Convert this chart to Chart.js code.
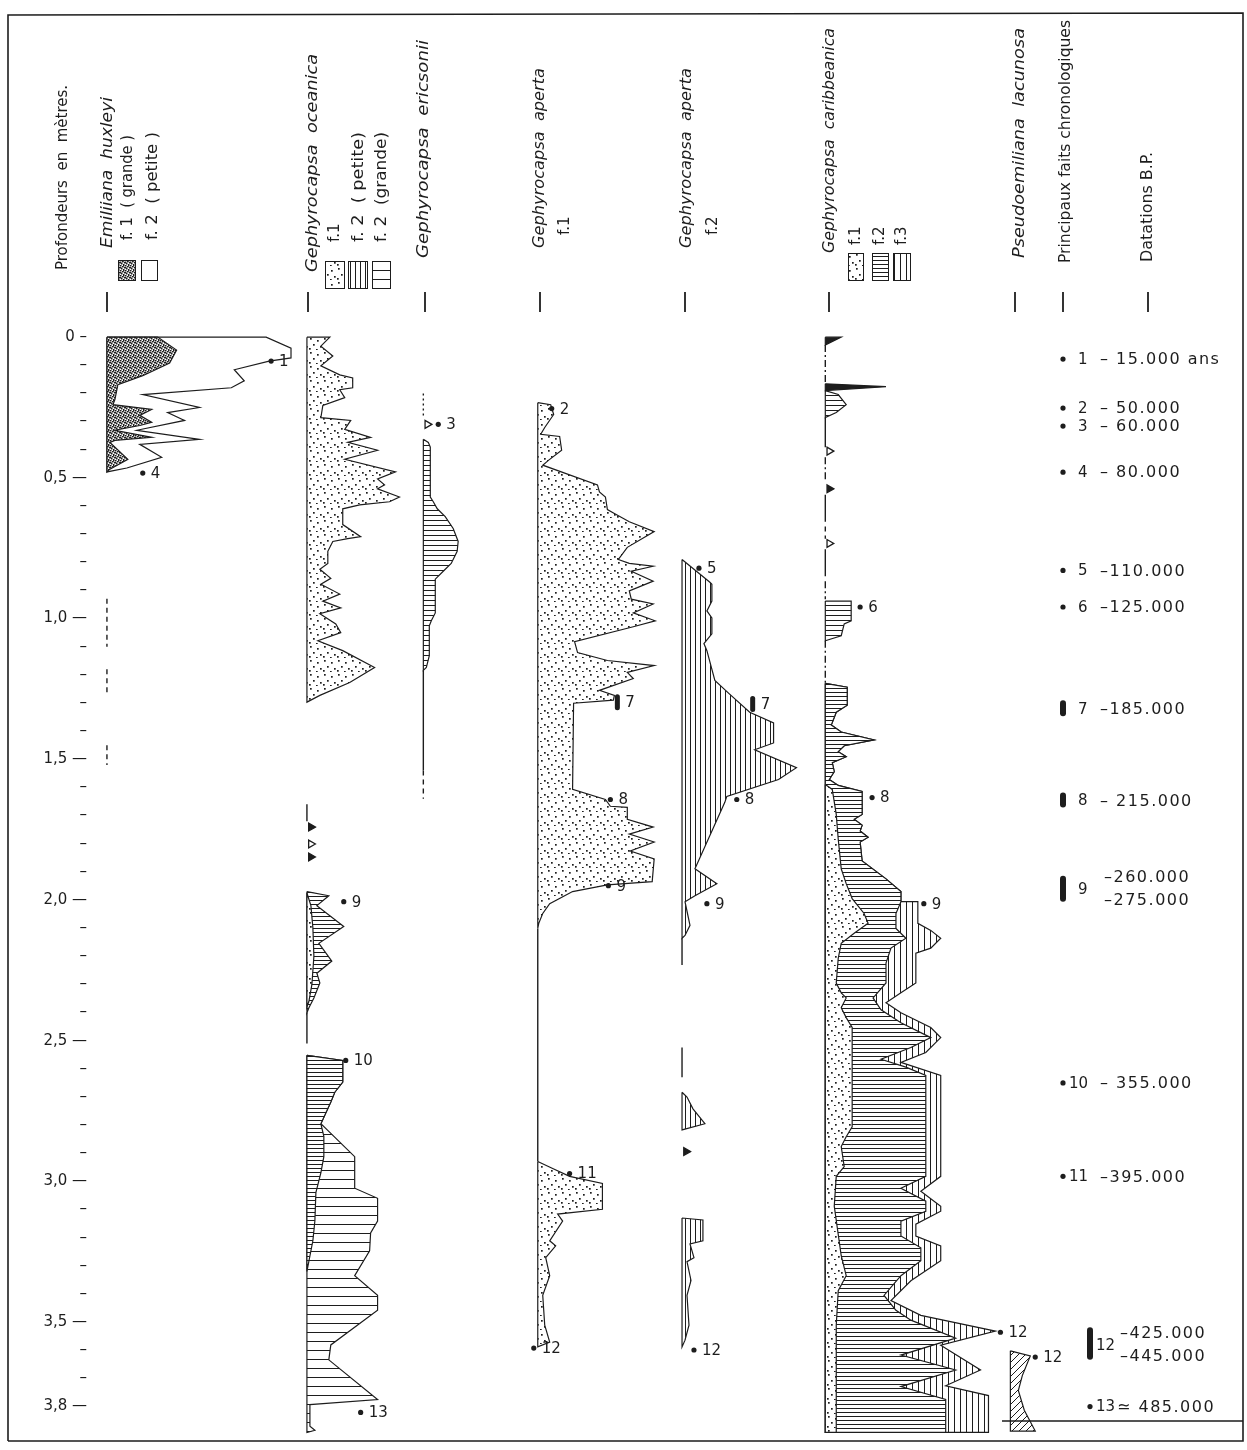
<!DOCTYPE html>
<html>
<head>
<meta charset="utf-8">
<script src="https://cdn.jsdelivr.net/npm/chart.js@4.4.1/dist/chart.umd.min.js"></script>
<style>
html, body { margin: 0; padding: 0; background: #fff; }
canvas { display: block; }
</style>
</head>
<body>
<canvas id="chart" width="1247" height="1450"></canvas>
<script>
// depth axis (metres)
const depthTicks = [0,0.1,0.2,0.3,0.4,0.5,0.6,0.7,0.8,0.9,1.0,1.1,1.2,1.3,1.4,1.5,1.6,1.7,1.8,1.9,2.0,
  2.1,2.2,2.3,2.4,2.5,2.6,2.7,2.8,2.9,3.0,3.1,3.2,3.3,3.4,3.5,3.6,3.7,3.8];
const majorDepths = [0, 0.5, 1.0, 1.5, 2.0, 2.5, 3.0, 3.5, 3.8];
const majorLabels = ['0', '0,5', '1,0', '1,5', '2,0', '2,5', '3,0', '3,5', '3,8'];

// series: [depth, relative abundance]
// Emiliania huxleyi
const huxF2 = [[0,0],[0,160],[0.039,185],[0.074,185],[0.085,163],[0.116,128],[0.155,138],[0.18,125],[0.204,36],
  [0.25,93],[0.268,61],[0.296,78],[0.331,30],[0.363,93],[0.381,33],[0.427,55],[0.465,20],[0.479,0]];
const huxF1 = [[0,0],[0,51],[0.046,70],[0.092,63],[0.137,36],[0.169,11],[0.222,8],[0.24,6],[0.257,45],[0.278,33],
  [0.303,45],[0.314,33],[0.331,8],[0.356,45],[0.367,8],[0.374,3],[0.434,21],[0.469,3],[0.479,0]];

// Gephyrocapsa oceanica
const oceF1 = [[0,0],[0,23],[0.032,14],[0.067,26],[0.102,14],[0.134,33],[0.145,46],[0.18,46],[0.187,33],[0.215,38],
  [0.243,16],[0.286,14],[0.296,44],[0.328,38],[0.356,64],[0.374,41],[0.402,71],[0.434,38],[0.479,89],[0.504,71],
  [0.525,78],[0.539,71],[0.568,93],[0.585,83],[0.596,53],[0.61,36],[0.666,36],[0.709,54],[0.716,41],[0.726,26],
  [0.761,21],[0.804,21],[0.825,13],[0.857,24],[0.878,14],[0.913,33],[0.938,16],[0.962,34],[0.983,13],[1.019,29],
  [1.05,34],[1.079,11],[1.114,36],[1.174,68],[1.227,43],[1.273,13],[1.297,0]];
const oceA2 = [[1.97,0],[1.985,22],[2.02,10],[2.094,37],[2.154,12],[2.217,25],[2.26,10],[2.295,13],[2.348,7],[2.383,2],[2.401,0]];
const oceA1 = [[1.975,0],[2.02,4],[2.1,6],[2.2,7],[2.3,5],[2.36,2],[2.38,0]];
const oceB2g = [[2.552,0],[2.57,36],[2.647,36],[2.683,28],[2.718,24],[2.795,14],[2.912,48],[3.024,48],[3.06,71],
  [3.141,71],[3.183,64],[3.247,63],[3.335,48],[3.405,71],[3.458,71],[3.581,24],[3.634,22],[3.775,71],[3.793,3],
  [3.87,3],[3.884,8],[3.892,0]];
const oceB2p = [[2.552,0],[2.57,36],[2.647,36],[2.683,28],[2.718,24],[2.795,14],[2.84,17],[2.912,17],[2.97,14],
  [3.04,9],[3.14,8],[3.21,6],[3.32,0]];

// Gephyrocapsa ericsonii
const eriF = [[0.363,0],[0.374,5],[0.391,7],[0.568,7],[0.585,10],[0.61,14],[0.638,22],[0.68,30],[0.726,35],[0.761,34],
  [0.804,28],[0.832,20],[0.86,12],[0.98,12],[1.008,8],[1.026,6],[1.132,6],[1.174,3],[1.184,0]];

// Gephyrocapsa aperta f.1
const ap1A = [[0.233,0],[0.24,13],[0.275,16],[0.321,7],[0.345,3],[0.353,22],[0.402,24],[0.437,11],[0.455,5],[0.525,60],
  [0.55,62],[0.568,68],[0.613,70],[0.627,77],[0.656,92],[0.691,117],[0.747,90],[0.79,81],[0.804,92],[0.814,116],
  [0.832,94],[0.867,116],[0.902,92],[0.931,94],[0.948,116],[0.98,96],[1.008,118],[1.029,96],[1.082,37],[1.121,40],
  [1.149,70],[1.167,117],[1.191,90],[1.213,96],[1.255,62],[1.273,77],[1.29,76],[1.301,36],[1.607,35],[1.643,68],
  [1.667,73],[1.671,90],[1.713,90],[1.741,116],[1.766,92],[1.794,117],[1.826,93],[1.854,117],[1.935,115],[1.946,70],
  [1.97,35],[2.013,12],[2.048,5],[2.083,1],[2.101,0]];
const ap1B = [[2.929,0],[2.954,15],[2.982,32],[3.007,65],[3.099,65],[3.116,20],[3.141,25],[3.211,12],[3.229,18],
  [3.271,8],[3.335,12],[3.405,5],[3.511,7],[3.571,12],[3.588,0]];

// Gephyrocapsa aperta f.2
const ap2A = [[0.79,0],[0.871,28],[0.878,30],[0.938,30],[0.973,25],[0.998,30],[1.054,30],[1.089,22],[1.114,25],[1.22,33],
  [1.266,47],[1.333,68],[1.371,92],[1.442,92],[1.466,73],[1.53,115],[1.572,97],[1.632,45],[1.653,43],[1.889,13],
  [1.942,35],[1.985,13],[2.006,3],[2.09,8],[2.126,3],[2.136,0]];
const ap2B = [[2.683,0],[2.7,5],[2.742,11],[2.795,23],[2.817,0]];
const ap2C = [[3.13,0],[3.137,21],[3.211,21],[3.222,8],[3.271,12],[3.285,5],[3.352,9],[3.405,5],[3.511,7],[3.564,3],[3.588,0]];

// Gephyrocapsa caribbeanica
const carFlag = [[0,0],[0,16],[0.028,0]];
const carSpike = [[0.166,0],[0.176,61],[0.19,0]];
const carTri = [[0.19,0],[0.204,13],[0.24,21],[0.268,11],[0.286,0]];
const carSix = [[0.938,0],[0.938,26],[1.008,26],[1.019,19],[1.061,16],[1.079,0]];
const carF3 = [[1.23,0],[1.244,22],[1.308,22],[1.333,11],[1.378,6],[1.403,16],[1.431,49],[1.452,19],[1.473,13],
  [1.491,21],[1.512,7],[1.544,9],[1.572,4],[1.593,13],[1.614,37],[1.696,37],[1.713,29],[1.734,37],[1.755,35],
  [1.777,43],[1.794,35],[1.861,37],[1.925,61],[1.97,76],[2.006,76],[2.006,93],[2.083,93],[2.108,106],[2.136,116],
  [2.171,106],[2.189,91],[2.295,91],[2.33,76],[2.365,61],[2.401,76],[2.453,106],[2.489,116],[2.542,101],[2.577,76],
  [2.623,116],[2.982,116],[3.035,96],[3.088,116],[3.106,116],[3.152,91],[3.194,91],[3.229,116],[3.282,116],
  [3.353,86],[3.423,66],[3.476,96],[3.532,171],[3.582,116],[3.67,156],[3.726,121],[3.761,164],[3.892,164],[3.892,0]];
const carF2 = [[1.23,0],[1.244,22],[1.308,22],[1.333,11],[1.378,6],[1.403,16],[1.431,49],[1.452,19],[1.473,13],
  [1.491,21],[1.512,7],[1.544,9],[1.572,4],[1.593,13],[1.614,37],[1.696,37],[1.713,29],[1.734,37],[1.755,35],
  [1.777,43],[1.794,35],[1.861,37],[1.925,61],[1.97,76],[2.006,76],[2.048,71],[2.101,71],[2.136,81],[2.171,66],
  [2.224,61],[2.295,61],[2.348,48],[2.39,56],[2.436,76],[2.489,106],[2.524,86],[2.566,56],[2.594,81],[2.623,101],
  [2.982,101],[3.024,76],[3.07,101],[3.106,101],[3.141,76],[3.194,76],[3.236,96],[3.282,96],[3.335,76],[3.405,59],
  [3.458,71],[3.493,86],[3.557,131],[3.617,76],[3.67,131],[3.729,76],[3.775,121],[3.892,121],[3.892,0]];
const carF1 = [[1.59,0],[1.607,7],[1.696,11],[1.784,13],[1.889,16],[1.942,21],[1.995,27],[2.048,39],[2.083,43],
  [2.118,29],[2.154,16],[2.207,13],[2.295,11],[2.33,16],[2.348,21],[2.383,16],[2.418,21],[2.453,27],[2.806,27],
  [2.841,21],[2.876,16],[2.947,19],[2.982,11],[3.088,9],[3.264,16],[3.335,21],[3.388,13],[3.511,11],[3.892,11],[3.892,0]];

// Pseudoemiliania lacunosa
const pseF = [[3.602,0],[3.62,20],[3.69,12],[3.743,8],[3.813,14],[3.887,25],[3.887,0]];

// stems where only traces were found: [column, from, to, kind]
const stems = [
  ['hux',0.93,1.10,'dash'],['hux',1.18,1.27,'dash'],['hux',1.45,1.52,'dash'],
  ['oce',1.66,1.72,'solid'],['oce',2.40,2.51,'solid'],
  ['eri',0.20,0.28,'dot'],['eri',1.184,1.54,'solid'],['eri',1.54,1.64,'dash'],
  ['ap1',2.101,2.929,'solid'],
  ['ap2',2.136,2.231,'solid'],['ap2',2.524,2.63,'solid'],
  ['car',0.028,0.162,'dashdot'],['car',0.286,0.391,'solid'],['car',0.427,0.515,'dashdot'],['car',0.56,0.656,'solid'],
  ['car',0.673,0.716,'dash'],['car',0.754,0.85,'solid'],['car',0.867,0.931,'dashdot'],['car',1.079,1.23,'dashdot']
];
// isolated occurrences: [column, depth, filled]
const rare = [['oce',1.741,true],['oce',1.801,false],['oce',1.847,true],['eri',0.31,false],
  ['car',0.405,false],['car',0.539,true],['car',0.733,false],['ap2',2.894,true]];

// numbered levels on the profiles: [column, abundance, depth, label, kind]
const colMarks = [
  ['hux',165,0.085,'1','dot'],['hux',36,0.483,'4','dot'],
  ['oce',37,2.006,'9','dot'],['oce',39,2.57,'10','dot'],['oce',54,3.821,'13','dot'],
  ['eri',15,0.31,'3','dot'],
  ['ap1',14,0.254,'2','dot'],['ap1',80,1.297,'7','bar'],['ap1',73,1.643,'8','dot'],['ap1',71,1.949,'9','dot'],
  ['ap1',32,2.972,'11','dot'],['ap1',-4,3.592,'12','dot'],
  ['ap2',17,0.821,'5','dot'],['ap2',71,1.304,'7','bar'],['ap2',55,1.643,'8','dot'],['ap2',25,2.013,'9','dot'],
  ['ap2',12,3.599,'12','dot'],
  ['car',35,0.959,'6','dot'],['car',47,1.636,'8','dot'],['car',99,2.013,'9','dot'],['car',176,3.536,'12','dot'],
  ['pse',25,3.624,'12','dot']
];

// chronology
const eventNum = ['1','2','3','4','5','6','7','8','9','10','11','12','13'];
const eventDepth = [0.078,0.252,0.316,0.48,0.829,0.959,1.322,1.646,1.96,2.65,2.982,3.582,3.8];
const eventTop = [null,null,null,null,null,null,1.29,1.618,1.914,null,null,3.518,null];
const eventBottom = [null,null,null,null,null,null,1.347,1.671,2.006,null,null,3.634,null];
const eventDate = ['– 15.000 ans','– 50.000','– 60.000','– 80.000','–110.000','–125.000','–185.000','– 215.000',
  ['–260.000','–275.000'],'– 355.000','–395.000',['–425.000','–445.000'],'≃ 485.000'];

const INK = '#1d1d1d';
const zeroPx = 334, pxPerM = 283.7, H = 1450;
const colX = {hux:107, oce:308, eri:425, ap1:540, ap2:685, car:829, pse:1015, chr:1063, dat:1148};

const canvas = document.getElementById('chart');
const ctx = canvas.getContext('2d');

function tile(w, h, draw) {
  const c = document.createElement('canvas');
  c.width = w; c.height = h;
  const g = c.getContext('2d');
  g.fillStyle = '#fff'; g.fillRect(0, 0, w, h);
  g.fillStyle = INK; g.strokeStyle = INK;
  draw(g);
  return ctx.createPattern(c, 'repeat');
}
const pat = {
  dots: tile(14, 14, g => [[2,2],[9,4],[5,8],[12,10],[1,12],[8,13]].forEach(p => g.fillRect(p[0], p[1], 1.7, 1.7))),
  dark: tile(5, 5, g => [[0,0],[2,1],[4,2],[1,3],[3,4],[0,2],[3,0]].forEach(p => g.fillRect(p[0], p[1], 1.5, 1.5))),
  hDense: tile(4, 4, g => g.fillRect(0, 0, 4, 1)),
  hMid: tile(5, 5, g => g.fillRect(0, 0, 5, 1)),
  hSparse: tile(9, 9, g => g.fillRect(0, 0, 9, 1)),
  vDense: tile(5, 5, g => g.fillRect(0, 0, 1, 5)),
  vLines: tile(6, 6, g => g.fillRect(0, 0, 1, 6)),
  diag: tile(7, 7, g => { g.lineWidth = 1; g.beginPath(); g.moveTo(-1, 8); g.lineTo(8, -1); g.stroke(); })
};

function poly(col, pts, fillStyle, order) {
  const b = colX[col];
  const data = pts.map(p => ({x: b + p[1], y: p[0]}));
  data.push({x: data[0].x, y: data[0].y});
  return {data, fill: 'shape', backgroundColor: fillStyle, borderColor: INK, borderWidth: 1.2,
    pointRadius: 0, order};
}
const dashes = {solid: [], dash: [5, 4], dot: [2, 3], dashdot: [7, 3, 2, 3]};
function stem(s) {
  const x = colX[s[0]];
  return {data: [{x, y: s[1]}, {x, y: s[2]}], fill: false, borderColor: INK, borderWidth: 1.4,
    borderDash: dashes[s[3]], pointRadius: 0, order: 0};
}

const datasets = [
  poly('hux', huxF2, '#fff', 3), poly('hux', huxF1, pat.dark, 1),
  poly('oce', oceF1, pat.dots, 1),
  poly('oce', oceA2, pat.hDense, 3), poly('oce', oceA1, pat.dots, 1),
  poly('oce', oceB2g, pat.hSparse, 3), poly('oce', oceB2p, pat.hDense, 1),
  poly('eri', eriF, pat.hMid, 1),
  poly('ap1', ap1A, pat.dots, 1), poly('ap1', ap1B, pat.dots, 1),
  poly('ap2', ap2A, pat.vDense, 1), poly('ap2', ap2B, pat.vDense, 1), poly('ap2', ap2C, pat.vDense, 1),
  poly('car', carFlag, INK, 1), poly('car', carSpike, INK, 1), poly('car', carTri, pat.hMid, 1),
  poly('car', carSix, pat.hMid, 1),
  poly('car', carF3, pat.vLines, 3), poly('car', carF2, pat.hDense, 2), poly('car', carF1, pat.dots, 1),
  poly('pse', pseF, pat.diag, 1),
  ...stems.map(stem),
  {
    data: rare.map(r => ({x: colX[r[0]] + 4, y: r[1]})),
    showLine: false, fill: false, pointStyle: 'triangle', pointRotation: 90, pointRadius: 4.5,
    pointBackgroundColor: rare.map(r => r[2] ? INK : '#fff'), pointBorderColor: INK, pointBorderWidth: 1.3, order: 0
  }
];

function vtext(g, str, x, yBottom, len, font) {
  g.save();
  g.font = font;
  g.translate(x, yBottom);
  g.rotate(-Math.PI / 2);
  const w = g.measureText(str).width;
  if (len) g.scale(len / w, 1);
  g.textAlign = 'left';
  g.textBaseline = 'middle';
  g.fillText(str, 0, 0);
  g.restore();
}

const headers = [
  ['Profondeurs  en  mètres.', 63, 270, 185, false],
  ['Emiliiana  huxleyi', 108, 248, 151, true],
  ['f. 1  ( grande )', 128, 240, 105, false],
  ['f. 2  ( petite )', 153, 240, 108, false],
  ['Gephyrocapsa  oceanica', 313, 272, 218, true],
  ['f.1', 335, 242, null, false],
  ['f. 2  ( petite)', 359, 242, 110, false],
  ['f. 2  (grande)', 382, 242, 110, false],
  ['Gephyrocapsa  ericsonii', 424, 258, 218, true],
  ['Gephyrocapsa  aperta', 540, 248, 180, true],
  ['f.1', 565, 235, null, false],
  ['Gephyrocapsa  aperta', 687, 248, 180, true],
  ['f.2', 713, 235, null, false],
  ['Gephyrocapsa  caribbeanica', 830, 253, 225, true],
  ['f.1', 856, 245, null, false], ['f.2', 880, 245, null, false], ['f.3', 902, 245, null, false],
  ['Pseudoemiliana  lacunosa', 1020, 258, 230, true],
  ['Principaux faits chronologiques', 1066, 263, 243, false],
  ['Datations B.P.', 1148, 262, 110, false]
];
const swatches = [
  [118, 260, 17, 20, 'dark'], [141, 260, 16, 20, '#fff'],
  [325, 261, 19, 27, 'dots'], [348, 261, 19, 27, 'vDense'], [372, 261, 18, 27, 'hSparse'],
  [848, 253, 15, 27, 'dots'], [872, 253, 16, 27, 'hDense'], [893, 253, 17, 27, 'vLines']
];

const decor = {
  id: 'decor',
  beforeDraw(c) {
    const g = c.ctx;
    g.save(); g.fillStyle = '#fff'; g.fillRect(0, 0, c.width, c.height); g.restore();
  },
  afterDraw(c) {
    const g = c.ctx, xs = c.scales.x, ys = c.scales.y;
    g.save();
    g.fillStyle = INK; g.strokeStyle = INK;
    // frame
    g.lineWidth = 1.6;
    g.beginPath();
    g.moveTo(8, 1441); g.lineTo(8, 15); g.lineTo(1243, 13); g.lineTo(1243, 1441); g.lineTo(8, 1441);
    g.moveTo(1002, 1421); g.lineTo(1243, 1421);
    g.stroke();
    // headers
    headers.forEach(h => vtext(g, h[0], h[1], h[2], h[3], (h[4] ? 'italic ' : '') + '15px "DejaVu Sans"'));
    g.lineWidth = 1;
    swatches.forEach(s => {
      g.fillStyle = s[4].startsWith('#') ? s[4] : pat[s[4]];
      g.fillRect(s[0], s[1], s[2], s[3]);
      g.strokeRect(s[0] + 0.5, s[1] + 0.5, s[2], s[3]);
    });
    g.fillStyle = INK;
    // column ticks under the headers
    g.lineWidth = 1.8;
    Object.values(colX).forEach(x => { g.beginPath(); g.moveTo(x, 292); g.lineTo(x, 312); g.stroke(); });
    // numbered levels on profiles
    g.font = '15px "DejaVu Sans"';
    g.textBaseline = 'middle';
    g.textAlign = 'left';
    colMarks.forEach(m => {
      const x = xs.getPixelForValue(colX[m[0]] + m[1]);
      const y = ys.getPixelForValue(m[2]);
      if (m[4] === 'bar') {
        g.beginPath(); g.roundRect(x - 2.5, y - 8, 5, 16, 2.5); g.fill();
      } else {
        g.beginPath(); g.arc(x, y, 2.6, 0, Math.PI * 2); g.fill();
      }
      g.fillText(m[3], x + 8, y + 1);
    });
    // chronology column
    eventNum.forEach((n, i) => {
      const late = i >= 11;
      const mx = late ? 1090 : 1063;
      const y = ys.getPixelForValue(eventDepth[i]);
      if (eventTop[i] !== null) {
        const y1 = ys.getPixelForValue(eventTop[i]), y2 = ys.getPixelForValue(eventBottom[i]);
        g.beginPath(); g.roundRect(mx - 3, y1, 6, y2 - y1, 3); g.fill();
      } else {
        g.beginPath(); g.arc(mx, y, 2.6, 0, Math.PI * 2); g.fill();
      }
      g.font = '15px "DejaVu Sans"';
      const nx = n.length > 1 ? mx + 6 : mx + 15;
      g.fillText(n, nx, y + 1);
      g.font = '16px "DejaVu Sans"';
      g.letterSpacing = '1.5px';
      const dx = late ? (i === 11 ? 1120 : 1117) : (i === 8 ? 1104 : 1100);
      const d = eventDate[i];
      if (Array.isArray(d)) {
        g.fillText(d[0], dx, y - 11);
        g.fillText(d[1], dx, y + 12);
      } else {
        g.fillText(d, dx, y + 1);
      }
      g.letterSpacing = '0px';
    });
    g.restore();
  }
};

new Chart(ctx, {
  type: 'line',
  data: {datasets},
  options: {
    responsive: false,
    animation: false,
    events: [],
    layout: {padding: 0},
    plugins: {legend: {display: false}, tooltip: {enabled: false}},
    scales: {
      x: {type: 'linear', min: 95, max: 1247, display: false},
      y: {
        type: 'linear',
        reverse: true,
        min: -zeroPx / pxPerM,
        max: (H - zeroPx) / pxPerM,
        afterBuildTicks(s) { s.ticks = depthTicks.map(v => ({value: v})); },
        afterFit(s) { s.width = 95; s.paddingTop = 0; s.paddingBottom = 0; },
        grid: {display: false, drawTicks: false},
        border: {display: false},
        ticks: {
          autoSkip: false,
          padding: 8,
          color: INK,
          font: {family: 'DejaVu Sans', size: 15},
          callback(v) {
            const k = majorDepths.findIndex(m => Math.abs(m - v) < 1e-6);
            if (k < 0) return '–';
            return majorLabels[k] + (k === 0 ? ' –' : ' —');
          }
        }
      }
    }
  },
  plugins: [decor]
});
</script>
</body>
</html>
